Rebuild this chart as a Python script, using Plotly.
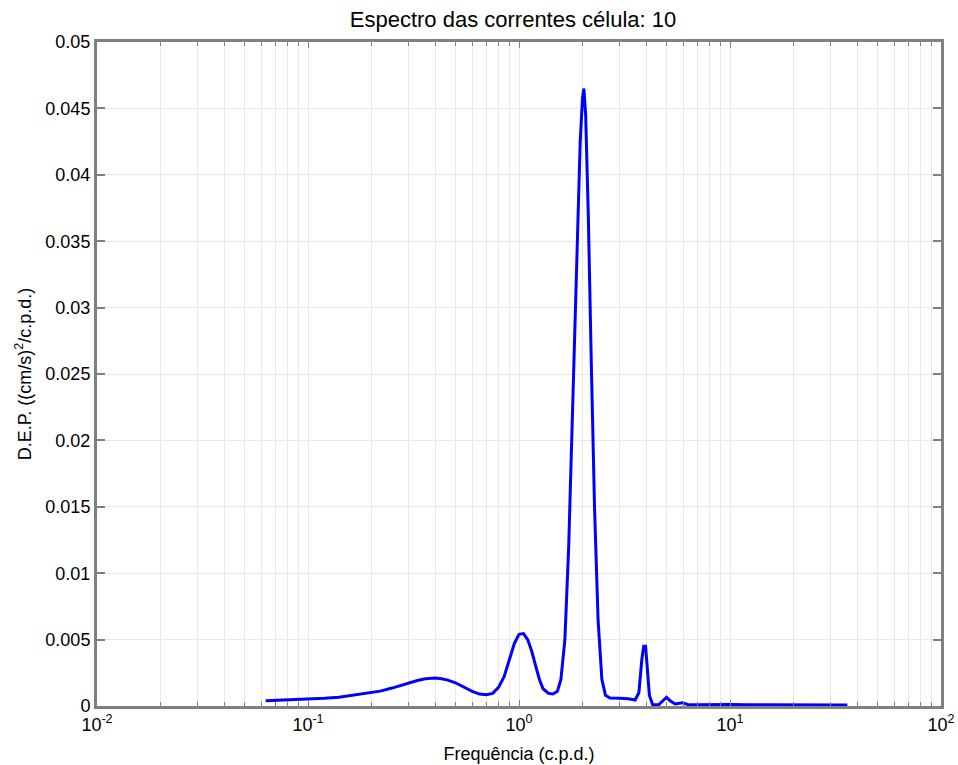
import plotly.graph_objects as go

freq = [0.063, 0.07, 0.08, 0.09, 0.1, 0.12, 0.14, 0.16, 0.18, 0.2, 0.22, 0.25, 0.28, 0.3,
        0.33, 0.36, 0.4, 0.43, 0.46, 0.5, 0.55, 0.6, 0.65, 0.7, 0.75, 0.8, 0.85, 0.9, 0.95,
        1.0, 1.05, 1.1, 1.15, 1.2, 1.25, 1.3, 1.38, 1.45, 1.52, 1.58, 1.65, 1.72, 1.8, 1.88,
        1.95, 2.0, 2.03, 2.07, 2.13, 2.2, 2.28, 2.37, 2.47, 2.57, 2.7, 3.0, 3.3, 3.55, 3.7,
        3.82, 3.9, 3.98, 4.05, 4.15, 4.3, 4.6, 4.85, 5.0, 5.2, 5.5, 5.95, 6.3, 7, 8, 9, 10,
        12, 15, 20, 25, 30, 36]
dep = [0.00040, 0.00042, 0.00045, 0.00048, 0.00052, 0.00058, 0.00066, 0.00078, 0.00090,
       0.00100, 0.00112, 0.00135, 0.00160, 0.00175, 0.00192, 0.00205, 0.00210, 0.00205,
       0.00195, 0.00175, 0.00140, 0.00110, 0.00090, 0.00085, 0.00095, 0.00140, 0.00220,
       0.00340, 0.00470, 0.00540, 0.00545, 0.00500, 0.00410, 0.00300, 0.00200, 0.00130,
       0.00095, 0.00090, 0.00110, 0.00200, 0.00500, 0.01200, 0.02300, 0.03500, 0.04250,
       0.04580, 0.04650, 0.04450, 0.03700, 0.02600, 0.01500, 0.00650, 0.00200, 0.00080,
       0.00060, 0.00058, 0.00055, 0.00045, 0.00100, 0.00350, 0.00450, 0.00450, 0.00300,
       0.00080, 0.00010, 0.00010, 0.00045, 0.00065, 0.00040, 0.00015, 0.00025, 0.00012,
       0.00010, 0.00012, 0.00010, 0.00012, 0.00010, 0.00010, 0.00008, 0.00008, 0.00008,
       0.00008]

x_tickvals = [0.01, 0.1, 1, 10, 100]
x_ticktext = ["10<sup>-2</sup>", "10<sup>-1</sup>", "10<sup>0</sup>", "10<sup>1</sup>", "10<sup>2</sup>"]
y_tickvals = [0, 0.005, 0.01, 0.015, 0.02, 0.025, 0.03, 0.035, 0.04, 0.045, 0.05]
y_ticktext = ["0", "0.005", "0.01", "0.015", "0.02", "0.025", "0.03", "0.035", "0.04", "0.045", "0.05"]

font = "Liberation Sans, Arial, sans-serif"
axcol = "#808080"
gridcol = "#e8e8e8"

fig = go.Figure()
fig.add_trace(go.Scatter(x=freq, y=dep, mode="lines",
                         line=dict(color="#0000ff", width=3), showlegend=False))

fig.update_layout(
    width=958, height=765,
    margin=dict(l=97, r=17, t=42, b=59),
    paper_bgcolor="white", plot_bgcolor="white",
    font=dict(family=font, size=18, color="black"),
    title=dict(text="Espectro das correntes célula: 10", x=0.5355, xanchor="center",
               y=0.975, yanchor="middle", font=dict(size=22, color="black")),
)
fig.update_xaxes(
    type="log", range=[-2, 2], tickvals=x_tickvals, ticktext=x_ticktext,
    automargin=False,
    showline=True, linecolor=axcol, linewidth=3, mirror="ticks",
    ticks="inside", ticklen=6, tickcolor=axcol, tickwidth=1,
    showgrid=True, gridcolor=gridcol, gridwidth=1, zeroline=False,
    minor=dict(dtick="D1", showgrid=True, gridcolor=gridcol, ticks="inside",
               ticklen=4, tickcolor=axcol),
    title=dict(text="Frequência (c.p.d.)", standoff=14, font=dict(size=18)),
    tickfont=dict(size=18),
)
fig.update_yaxes(
    range=[0, 0.05], tickvals=y_tickvals, ticktext=y_ticktext,
    automargin=False,
    showline=True, linecolor=axcol, linewidth=3, mirror="ticks",
    ticks="inside", ticklen=8, tickcolor=axcol, tickwidth=2,
    showgrid=True, gridcolor=gridcol, gridwidth=1, zeroline=False,
    title=dict(text="D.E.P. ((cm/s)<sup>2</sup>/c.p.d.)", standoff=10, font=dict(size=18)),
    tickfont=dict(size=18),
)

fig.write_html("out.html")
